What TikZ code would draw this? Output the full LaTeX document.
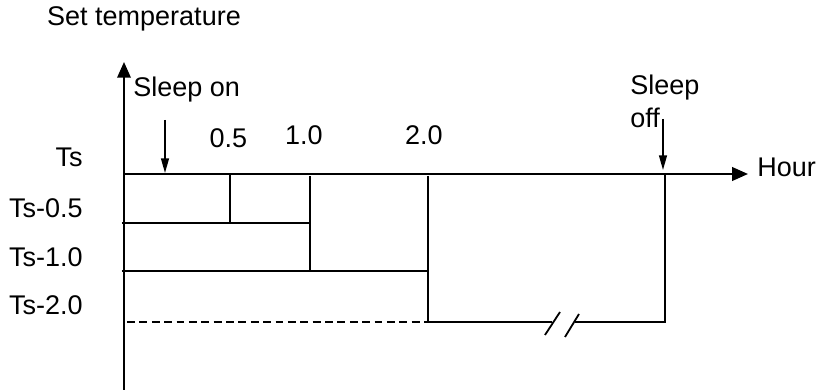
\documentclass[tikz,border=0pt]{standalone}
\usepackage{fontspec}
\setmainfont{Liberation Sans}
\usetikzlibrary{arrows.meta, positioning, calc}

\begin{document}
\begin{tikzpicture}[x=0.4444pt, y=0.4444pt, font=\fontsize{12}{14}\selectfont,
  axis/.style={line width=0.9pt, -{Triangle[length=7pt,width=6pt]}},
  level/.style={line width=0.8pt},
  sleeparrow/.style={line width=0.7pt, -{Triangle[length=6.5pt,width=3.5pt]}},
  lbl/.style={inner sep=0pt}]
  \useasboundingbox (-124,-217) rectangle (693,174);
  % axes
  \coordinate (o) at (0,0);
  \coordinate (ytop) at (0,112);
  \coordinate (ybot) at (0,-216);
  \coordinate (xend) at (624,0);
  \draw[axis] (ybot) -- (ytop);
  \draw[axis] (o) -- (xend);
  % grid points
  \coordinate (l1a) at (-2,-49);
  \coordinate (l2a) at (-2,-97);
  \coordinate (l3a) at (3,-148);
  \coordinate (t05) at (106,0);
  \coordinate (t05b) at (106,-49);
  \coordinate (t10) at (186,-2);
  \coordinate (t10a) at (186,-49);
  \coordinate (t10b) at (186,-97);
  \coordinate (t20) at (304,-2);
  \coordinate (t20a) at (304,-97);
  \coordinate (t20b) at (304,-148);
  \coordinate (brk1) at (428,-148);
  \coordinate (brk2) at (451,-148);
  \coordinate (off) at (541,0);
  \coordinate (offb) at (541,-148);
  \draw[level] (l1a) -- (t10a);
  \draw[level] (l2a) -- (t20a);
  \draw[level, dash pattern=on 3.5pt off 2pt] (l3a) -- (t20b);
  \draw[level] (t05) -- (t05b);
  \draw[level] (t10) -- (t10b);
  \draw[level] (t20) -- (t20b) -- (brk1);
  \draw[level] (brk2) -- (offb) -- (off);
  % break marks
  \draw[level] ($(brk1)+(-7,-13)$) -- ++(15,23);
  \draw[level] ($(brk2)+(-10,-15)$) -- ++(14,23);
  % labels
  \node[lbl, anchor=base] (settemp) at (20,148) {Set temperature};
  \node[lbl, anchor=base west] (sleepon) at (9,77) {Sleep on};
  \node[lbl, anchor=base] (h05) at (104.5,26) {0.5};
  \node[lbl, anchor=base] (h10) at (180,29) {1.0};
  \node[lbl, anchor=base] (h20) at (300,29) {2.0};
  \node[lbl, anchor=base west] (sleepoff) at (506,79) {Sleep};
  \node[lbl, anchor=base west] (offtxt) at (506,46) {off};
  \node[lbl, anchor=base west] (hour) at (633,-3) {Hour};
  \node[lbl, anchor=base east] (ts) at (-41,7) {Ts};
  \node[lbl, anchor=base east] (ts05) at (-41,-44) {Ts-0.5};
  \node[lbl, anchor=base east] (ts10) at (-41,-93) {Ts-1.0};
  \node[lbl, anchor=base east] (ts20) at (-41,-141) {Ts-2.0};
  % sleep arrows
  \coordinate (ona) at (41,54);
  \coordinate (onb) at (41,1);
  \coordinate (offa) at (539,55);
  \coordinate (offc) at (539,4);
  \draw[sleeparrow] (ona) -- (onb);
  \draw[sleeparrow] (offa) -- (offc);
\end{tikzpicture}
\end{document}
